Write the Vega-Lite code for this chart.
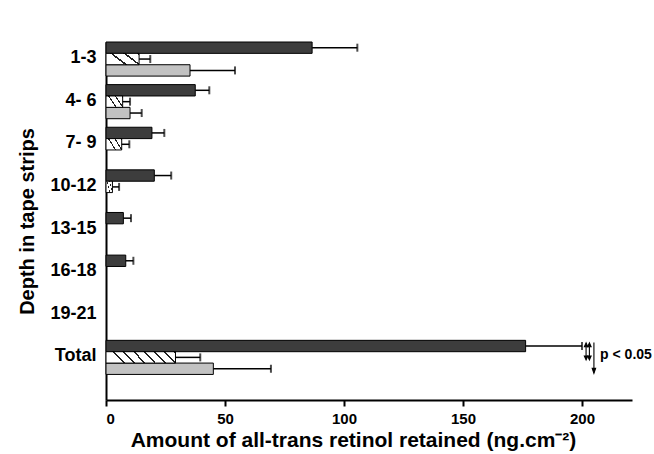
{
  "$schema": "https://vega.github.io/schema/vega-lite/v6.json",
  "autosize": "none",
  "width": 526,
  "height": 358,
  "padding": {"left": 106, "top": 42, "right": 22, "bottom": 54},
  "background": "white",
  "config": {
    "font": "Liberation Sans",
    "view": {"stroke": null},
    "axis": {
      "labelFont": "Liberation Sans",
      "titleFont": "Liberation Sans",
      "labelFontWeight": "bold",
      "titleFontWeight": "bold",
      "labelColor": "black",
      "titleColor": "black",
      "domainColor": "black",
      "tickColor": "black",
      "domainWidth": 2,
      "tickWidth": 2,
      "grid": false
    }
  },
  "datasets": {
    "bars": [
      {"depth": "1-3", "series": "A", "value": 86.6, "hi": 105.6},
      {"depth": "1-3", "series": "B", "value": 13.9, "hi": 18.6},
      {"depth": "1-3", "series": "C", "value": 35.3, "hi": 54.2},
      {"depth": "4- 6", "series": "A", "value": 37.5, "hi": 43.4},
      {"depth": "4- 6", "series": "B", "value": 7.0, "hi": 10.1},
      {"depth": "4- 6", "series": "C", "value": 10.1, "hi": 15.0},
      {"depth": "7- 9", "series": "A", "value": 19.3, "hi": 24.5},
      {"depth": "7- 9", "series": "B", "value": 6.6, "hi": 9.8},
      {"depth": "10-12", "series": "A", "value": 20.3, "hi": 27.4},
      {"depth": "10-12", "series": "B", "value": 2.7, "hi": 5.5},
      {"depth": "13-15", "series": "A", "value": 7.3, "hi": 10.5},
      {"depth": "16-18", "series": "A", "value": 8.3, "hi": 11.5},
      {"depth": "Total", "series": "A", "value": 176.3, "hi": 200.0},
      {"depth": "Total", "series": "B", "value": 29.2, "hi": 39.6},
      {"depth": "Total", "series": "C", "value": 45.1, "hi": 69.3}
    ],
    "notes": [
      {"x": 201.7, "depth": "Total"},
      {"x": 203.1, "depth": "Total"}
    ],
    "longarrow": [
      {"x": 205.0, "depth": "Total"}
    ],
    "label": [
      {"x": 207.6, "depth": "Total", "t": "p < 0.05"}
    ]
  },
  "encoding": {
    "y": {
      "field": "depth",
      "type": "nominal",
      "scale": {
        "domain": ["1-3", "4- 6", "7- 9", "10-12", "13-15", "16-18", "19-21", "Total"],
        "paddingInner": 0.2,
        "paddingOuter": 0.3,
        "align": 0
      },
      "axis": {
        "title": "Depth in tape strips",
        "titleFontSize": 20,
        "titlePadding": 12,
        "labelFontSize": 18,
        "labelPadding": 10,
        "labelOffset": -1,
        "ticks": false
      }
    }
  },
  "layer": [
    {
      "data": {"name": "bars"},
      "transform": [{"filter": "datum.series != 'B'"}],
      "mark": {"type": "bar", "stroke": "black", "strokeWidth": 1},
      "encoding": {
        "x": {
          "field": "value",
          "type": "quantitative",
          "scale": {"domain": [0, 221], "nice": false},
          "axis": {
            "title": "Amount of all-trans retinol retained (ng.cm⁻²)",
            "values": [0, 50, 100, 150, 200],
            "titleFontSize": 21,
            "titlePadding": 3,
            "titleX": 247,
            "titleAlign": "center",
            "labelFontSize": 15,
            "labelPadding": 5,
            "tickSize": 6
          }
        },
        "yOffset": {"field": "series", "type": "nominal", "scale": {"domain": ["A", "B", "C"], "paddingInner": 0, "paddingOuter": 0}},
        "fill": {"field": "series", "type": "nominal", "scale": {"domain": ["A", "B", "C"], "range": ["#3d3d3d", "#ffffff", "#c2c2c2"]}, "legend": null}
      }
    },
    {
      "data": {"name": "bars"},
      "transform": [{"filter": "datum.series == 'B' && datum.depth == 'Total'"}],
      "mark": {
        "type": "bar",
        "stroke": "black",
        "strokeWidth": 1,
        "fill": {
          "gradient": "linear",
          "x1": 0, "y1": 0.16, "x2": 1, "y2": 0,
          "stops": [
            {"offset": 0, "color": "#ffffff"}, {"offset": 0.115, "color": "#ffffff"}, {"offset": 0.115, "color": "#222222"}, {"offset": 0.143, "color": "#222222"},
            {"offset": 0.143, "color": "#ffffff"}, {"offset": 0.258, "color": "#ffffff"}, {"offset": 0.258, "color": "#222222"}, {"offset": 0.286, "color": "#222222"},
            {"offset": 0.286, "color": "#ffffff"}, {"offset": 0.401, "color": "#ffffff"}, {"offset": 0.401, "color": "#222222"}, {"offset": 0.429, "color": "#222222"},
            {"offset": 0.429, "color": "#ffffff"}, {"offset": 0.544, "color": "#ffffff"}, {"offset": 0.544, "color": "#222222"}, {"offset": 0.571, "color": "#222222"},
            {"offset": 0.571, "color": "#ffffff"}, {"offset": 0.687, "color": "#ffffff"}, {"offset": 0.687, "color": "#222222"}, {"offset": 0.714, "color": "#222222"},
            {"offset": 0.714, "color": "#ffffff"}, {"offset": 0.83, "color": "#ffffff"}, {"offset": 0.83, "color": "#222222"}, {"offset": 0.857, "color": "#222222"},
            {"offset": 0.857, "color": "#ffffff"}, {"offset": 0.972, "color": "#ffffff"}, {"offset": 0.972, "color": "#222222"}, {"offset": 1, "color": "#222222"}
          ]
        }
      },
      "encoding": {
        "x": {"field": "value", "type": "quantitative"},
        "yOffset": {"field": "series", "type": "nominal"}
      }
    },
    {
      "data": {"name": "bars"},
      "transform": [{"filter": "datum.series == 'B' && datum.depth != 'Total'"}],
      "mark": {
        "type": "bar",
        "stroke": "black",
        "strokeWidth": 1,
        "fill": {
          "gradient": "linear",
          "x1": 0, "y1": 0.45, "x2": 1, "y2": 0,
          "stops": [
            {"offset": 0, "color": "#ffffff"}, {"offset": 0.27, "color": "#ffffff"}, {"offset": 0.27, "color": "#222222"}, {"offset": 0.333, "color": "#222222"},
            {"offset": 0.333, "color": "#ffffff"}, {"offset": 0.603, "color": "#ffffff"}, {"offset": 0.603, "color": "#222222"}, {"offset": 0.667, "color": "#222222"},
            {"offset": 0.667, "color": "#ffffff"}, {"offset": 0.937, "color": "#ffffff"}, {"offset": 0.937, "color": "#222222"}, {"offset": 1, "color": "#222222"}
          ]
        }
      },
      "encoding": {
        "x": {"field": "value", "type": "quantitative"},
        "yOffset": {"field": "series", "type": "nominal"}
      }
    },
    {
      "data": {"name": "bars"},
      "mark": {"type": "rule", "color": "black", "strokeWidth": 1.5},
      "encoding": {
        "x": {"field": "value", "type": "quantitative"},
        "x2": {"field": "hi"},
        "yOffset": {"field": "series", "type": "nominal"}
      }
    },
    {
      "data": {"name": "bars"},
      "mark": {"type": "tick", "color": "black", "thickness": 2, "size": 8, "orient": "vertical"},
      "encoding": {
        "x": {"field": "hi", "type": "quantitative"},
        "yOffset": {"field": "series", "type": "nominal"}
      }
    },
    {
      "data": {"name": "notes"},
      "mark": {
        "type": "point",
        "shape": "M0,-1L-0.2,-0.55L0.2,-0.55Z M0,1L-0.2,0.55L0.2,0.55Z M0,-0.6L0,0.6",
        "size": 289,
        "filled": true,
        "fill": "black",
        "stroke": "black",
        "strokeWidth": 1.1,
        "opacity": 1,
        "yOffset": -6
      },
      "encoding": {
        "x": {"field": "x", "type": "quantitative"}
      }
    },
    {
      "data": {"name": "longarrow"},
      "mark": {
        "type": "point",
        "shape": "M0,-1L0,0.75 M0,1L-0.11,0.68L0.11,0.68Z",
        "size": 961,
        "filled": true,
        "fill": "black",
        "stroke": "black",
        "strokeWidth": 1.1,
        "opacity": 1,
        "yOffset": 0.5
      },
      "encoding": {
        "x": {"field": "x", "type": "quantitative"}
      }
    },
    {
      "data": {"name": "label"},
      "mark": {"type": "text", "fontSize": 14, "fontWeight": "bold", "color": "black", "align": "left", "baseline": "middle", "dy": -2},
      "encoding": {
        "x": {"field": "x", "type": "quantitative"},
        "text": {"field": "t"}
      }
    }
  ]
}
